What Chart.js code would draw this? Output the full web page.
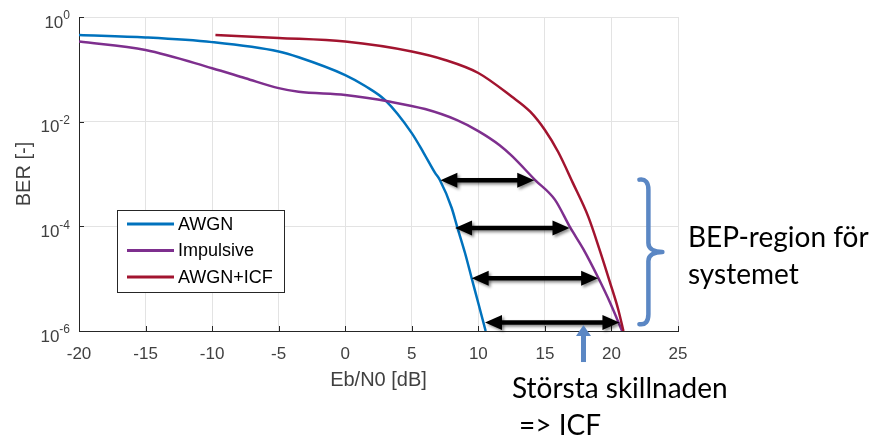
<!DOCTYPE html>
<html lang="sv">
<head>
<meta charset="UTF-8">
<title>BER vs Eb/N0</title>
<script src="https://cdn.jsdelivr.net/npm/chart.js@4.4.1/dist/chart.umd.min.js"></script>
<style>
  body { margin: 0; background: #fff; }
  .chart-container { width: 875px; height: 439px; position: relative; }
</style>
</head>
<body>
<div class="chart-container"><canvas id="berChart" width="875" height="439"></canvas></div>
<script>
// values (Eb/N0 in dB, BER)
const ebnoAWGN = [-20, -15, -10, -5, -3.5, 0, 1.5, 3, 5, 5.9, 6.75, 7.1, 8.0, 8.4, 9.0, 9.5, 10.0, 10.55];
const berAWGN  = [0.454, 0.407, 0.331, 0.219, 0.170, 0.0776, 0.0479, 0.0257, 0.00603, 0.00251, 0.00105, 7.76e-4, 2.24e-4, 1.0e-4, 3.09e-5, 1.02e-5, 3.39e-6, 1.0e-6];

const ebnoImp = [-20, -15, -10, -7.5, -5, -3.5, 0, 3.4, 6.0, 8.4, 10, 11.6, 12.5, 14.25, 15.75, 16.9, 17.9, 19.0, 19.9, 20.8];
const berImp  = [0.339, 0.234, 0.105, 0.0676, 0.0437, 0.0372, 0.0324, 0.0240, 0.0174, 0.0107, 0.00661, 0.00355, 0.00224, 7.76e-4, 3.24e-4, 9.5e-5, 3.63e-5, 1.05e-5, 3.47e-6, 1.0e-6];

const ebnoICF = [-9.75, -5, 0, 5, 7.5, 10, 12.5, 13.9, 15.0, 16.0, 17.1, 18.25, 19.1, 19.9, 20.5, 20.9];
const berICF  = [0.454, 0.398, 0.339, 0.219, 0.151, 0.0851, 0.0302, 0.0155, 0.00692, 0.00263, 6.76e-4, 1.55e-4, 3.63e-5, 8.32e-6, 2.63e-6, 1.0e-6];

const seriesLabels = ['AWGN', 'Impulsive', 'AWGN+ICF'];
const yTicks = [1e-6, 1e-4, 1e-2, 1];

// horizontal gap arrows: BER level, from / to Eb/N0
const gapBER  = [7.6e-4, 9.3e-5, 1.02e-5, 1.45e-6];
const gapFrom = [7.15, 8.25, 9.5, 10.5];
const gapTo   = [14.2, 16.85, 19.0, 20.6];

// brace (BEP region) and pointer arrow
const braceBER = [7.8e-4, 1.35e-6];
const braceEbno = 22.1;
const pointerEbno = 17.9;
const pointerBER = 1.3e-6;

const FONT = "'Liberation Sans', Arial, sans-serif";
const NOTE_FONT = "Lato, 'Open Sans', sans-serif";
const NOTE_BLUE = '#5b87c4';

function pts(xs, ys) { return xs.map((x, i) => ({ x: x, y: ys[i] })); }

function doubleArrow(ctx, x1, x2, y) {
  const hl = 17, hw = 7.5;
  ctx.save();
  ctx.shadowColor = 'rgba(0,0,0,0.45)';
  ctx.shadowBlur = 3;
  ctx.shadowOffsetX = 2;
  ctx.shadowOffsetY = 2;
  ctx.strokeStyle = '#000';
  ctx.fillStyle = '#000';
  ctx.lineWidth = 4.5;
  ctx.beginPath();
  ctx.moveTo(x1 + hl - 2, y);
  ctx.lineTo(x2 - hl + 2, y);
  ctx.stroke();
  ctx.beginPath();
  ctx.moveTo(x1, y);
  ctx.lineTo(x1 + hl, y - hw);
  ctx.lineTo(x1 + hl, y + hw);
  ctx.closePath();
  ctx.fill();
  ctx.beginPath();
  ctx.moveTo(x2, y);
  ctx.lineTo(x2 - hl, y - hw);
  ctx.lineTo(x2 - hl, y + hw);
  ctx.closePath();
  ctx.fill();
  ctx.restore();
}

const overlay = {
  id: 'overlay',
  afterDraw(chart) {
    const ctx = chart.ctx;
    const xs = chart.scales.x, ys = chart.scales.y;
    const area = chart.chartArea;

    // inward tick marks
    ctx.save();
    ctx.strokeStyle = '#262626';
    ctx.lineWidth = 1;
    xs.ticks.forEach(t => {
      const px = Math.round(xs.getPixelForValue(t.value)) + 0.5;
      ctx.beginPath();
      ctx.moveTo(px, area.bottom);
      ctx.lineTo(px, area.bottom - 5);
      ctx.stroke();
    });
    ys.ticks.forEach(t => {
      const py = Math.round(ys.getPixelForValue(t.value)) + 0.5;
      ctx.beginPath();
      ctx.moveTo(area.left, py);
      ctx.lineTo(area.left + 5, py);
      ctx.stroke();
    });

    // y tick labels 10^n
    ctx.fillStyle = '#404040';
    ctx.textAlign = 'right';
    ctx.textBaseline = 'middle';
    ys.ticks.forEach(t => {
      const py = ys.getPixelForValue(t.value);
      const exp = String(Math.round(Math.log10(t.value)));
      ctx.font = '12px ' + FONT;
      const ew = ctx.measureText(exp).width;
      ctx.fillText(exp, area.left - 9, py - 1);
      ctx.font = '17px ' + FONT;
      ctx.fillText('10', area.left - 9 - ew, py + 6);
    });
    ctx.restore();

    // legend
    ctx.save();
    const lx = 117.5, ly = 210.5, lw = 167, lh = 82;
    ctx.fillStyle = '#fff';
    ctx.fillRect(lx, ly, lw, lh);
    ctx.strokeStyle = '#262626';
    ctx.lineWidth = 1;
    ctx.strokeRect(lx, ly, lw, lh);
    ctx.font = '18px ' + FONT;
    ctx.textAlign = 'left';
    ctx.textBaseline = 'middle';
    chart.data.datasets.forEach((ds, i) => {
      const y = 224 + i * 26.5;
      ctx.strokeStyle = ds.borderColor;
      ctx.lineWidth = 3;
      ctx.beginPath();
      ctx.moveTo(127, y);
      ctx.lineTo(174, y);
      ctx.stroke();
      ctx.fillStyle = '#000';
      ctx.fillText(ds.label, 178, y + 1);
    });
    ctx.restore();

    // gap arrows
    gapBER.forEach((b, i) => {
      doubleArrow(ctx, xs.getPixelForValue(gapFrom[i]), xs.getPixelForValue(gapTo[i]), ys.getPixelForValue(b));
    });

    // brace
    const bt = ys.getPixelForValue(braceBER[0]);
    const bb = ys.getPixelForValue(braceBER[1]);
    const bl = xs.getPixelForValue(braceEbno);
    const bm = (bt + bb) / 2;
    const sx = bl + 9, tip = bl + 23;
    ctx.save();
    ctx.strokeStyle = NOTE_BLUE;
    ctx.lineWidth = 4.5;
    ctx.lineCap = 'round';
    ctx.beginPath();
    ctx.moveTo(bl, bt);
    ctx.bezierCurveTo(bl + 6, bt - 1, sx, bt + 3, sx, bt + 10);
    ctx.lineTo(sx, bm - 9);
    ctx.bezierCurveTo(sx, bm - 3, sx + 6, bm, tip, bm);
    ctx.moveTo(tip, bm);
    ctx.bezierCurveTo(sx + 6, bm, sx, bm + 3, sx, bm + 9);
    ctx.lineTo(sx, bb - 10);
    ctx.bezierCurveTo(sx, bb - 3, bl + 6, bb + 1, bl, bb);
    ctx.stroke();

    // pointer arrow
    const px = xs.getPixelForValue(pointerEbno);
    const py = ys.getPixelForValue(pointerBER);
    ctx.fillStyle = NOTE_BLUE;
    ctx.fillRect(px - 2.5, py + 10, 5, 27);
    ctx.beginPath();
    ctx.moveTo(px, py);
    ctx.lineTo(px - 7.5, py + 11);
    ctx.lineTo(px + 7.5, py + 11);
    ctx.closePath();
    ctx.fill();

    // notes
    ctx.fillStyle = '#000';
    ctx.font = '28px ' + NOTE_FONT;
    ctx.textAlign = 'left';
    ctx.textBaseline = 'alphabetic';
    ctx.fillText('BEP-region för', 688, 247);
    ctx.fillText('systemet', 688, 284);
    ctx.fillText('Största skillnaden', 512, 398);
    ctx.fillText('=> ICF', 519, 435);
    ctx.restore();
  }
};

const colors = ['#0072bd', '#7e2f8e', '#a2142f'];

new Chart(document.getElementById('berChart'), {
  type: 'line',
  data: {
    datasets: [
      { label: seriesLabels[0], data: pts(ebnoAWGN, berAWGN), borderColor: colors[0], order: 3 },
      { label: seriesLabels[1], data: pts(ebnoImp, berImp), borderColor: colors[1], order: 2 },
      { label: seriesLabels[2], data: pts(ebnoICF, berICF), borderColor: colors[2], order: 1 }
    ]
  },
  options: {
    responsive: false,
    animation: false,
    layout: { padding: { top: 17, right: 197, left: 0, bottom: 0 } },
    elements: {
      point: { radius: 0 },
      line: { borderWidth: 2.5, cubicInterpolationMode: 'monotone', fill: false }
    },
    plugins: { legend: { display: false }, tooltip: { enabled: false } },
    events: [],
    scales: {
      x: {
        type: 'linear', min: -20, max: 25,
        ticks: { stepSize: 5, color: '#404040', font: { family: FONT, size: 17 }, padding: 13 },
        grid: { color: '#e3e3e3', drawTicks: false },
        border: { display: true, color: '#262626', width: 1 },
        title: { display: true, text: 'Eb/N0 [dB]', color: '#404040', font: { family: FONT, size: 20 }, padding: { bottom: 47 } },
        afterFit: s => { s.height = 108; }
      },
      y: {
        type: 'logarithmic', min: 1e-6, max: 1,
        afterBuildTicks: s => { s.ticks = yTicks.map(v => ({ value: v })); },
        ticks: { display: false },
        grid: { color: '#e3e3e3', drawTicks: false },
        border: { display: true, color: '#262626', width: 1 },
        title: { display: true, text: 'BER [-]', color: '#404040', font: { family: FONT, size: 20 }, padding: { top: 12 } },
        afterFit: s => { s.width = 79; }
      }
    }
  },
  plugins: [overlay]
});
</script>
</body>
</html>
